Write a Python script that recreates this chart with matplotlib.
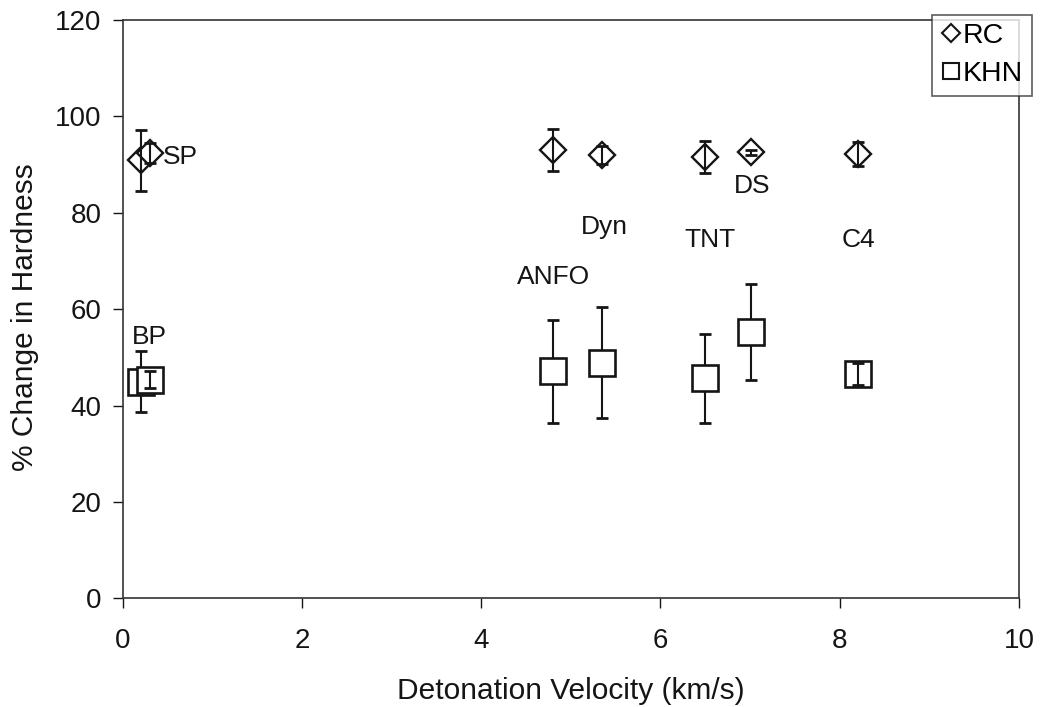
import matplotlib
matplotlib.use("Agg")
import matplotlib.pyplot as plt
import numpy as np

plt.rcParams['font.family'] = ['Liberation Sans', 'DejaVu Sans']

# Explosives and detonation velocity (km/s)
names = ['BP', 'SP', 'ANFO', 'Dyn', 'TNT', 'DS', 'C4']
velocity = [0.21, 0.31, 4.80, 5.35, 6.50, 7.01, 8.20]

# Rockwell C hardness change (%) and error
rc = [90.9, 92.4, 93.1, 92.0, 91.6, 92.6, 92.2]
rc_err = [6.3, 2.0, 4.35, 1.9, 3.3, 0.5, 2.5]

# Knoop hardness change (%) and error
khn = [45.0, 45.4, 47.1, 48.9, 45.7, 55.3, 46.6]
khn_err = [6.3, 1.7, 10.6, 11.5, 9.2, 10.0, 2.3]

# Text label anchor points (left edge, vertical centre)
label_x = [0.10, 0.45, 4.40, 5.11, 6.27, 6.82, 8.02]
label_y = [54.2, 91.6, 66.7, 77.1, 74.4, 85.6, 74.4]

ink = '#151515'
err_style = dict(fmt='none', ecolor=ink, elinewidth=1.5, capsize=4, capthick=2)

fig = plt.figure(figsize=(10.41, 7.07), dpi=100)
ax = fig.add_axes([0.1177, 0.1535, 0.8612, 0.8182])

# RC: bars drawn over the diamonds
ax.plot(velocity, rc, ls='none', marker='D', ms=13, mfc='white', mec=ink, mew=1.7, zorder=3)
ax.errorbar(velocity, rc, yerr=rc_err, zorder=4, **err_style)

# KHN: long bars sit behind the squares, short ones show inside them
v = np.array(velocity)
k = np.array(khn)
ke = np.array(khn_err)
short = ke < 4
ax.errorbar(v, k, yerr=ke, zorder=2, **err_style)
ax.plot(v, k, ls='none', marker='s', ms=18.5, mfc='white', mec=ink, mew=1.9, zorder=3)
ax.errorbar(v[short], k[short], yerr=ke[short], zorder=4, **err_style)

for name, lx, ly in zip(names, label_x, label_y):
    ax.text(lx, ly, name, fontsize=19, ha='left', va='center', color=ink)

ax.set_xlim(0, 10)
ax.set_ylim(0, 120)
ax.set_xticks(range(0, 11, 2))
ax.set_yticks(range(0, 121, 20))
ax.tick_params(direction='out', length=7, width=1, labelsize=20, colors=ink)
ax.tick_params(axis='x', pad=14)
ax.tick_params(axis='y', pad=8)
for side in ['left', 'bottom', 'top', 'right']:
    ax.spines[side].set_color('#333333')
    ax.spines[side].set_linewidth(1.2)

ax.set_xlabel('Detonation Velocity (km/s)', fontsize=21.5, color=ink, va='top')
ax.set_ylabel('% Change in Hardness', fontsize=21.5, color=ink)
ax.xaxis.set_label_coords(0.5, -0.135)
ax.yaxis.set_label_coords(-0.093, 0.487)

handles = [
    plt.Line2D([], [], ls='none', marker='D', ms=9.5, mfc='white', mec=ink, mew=1.5),
    plt.Line2D([], [], ls='none', marker='s', ms=11, mfc='white', mec=ink, mew=1.5),
]
leg = fig.legend(handles, ['RC', 'KHN'], loc='upper left', bbox_to_anchor=(0.895, 0.979),
                 fontsize=20.5, frameon=True, fancybox=False, borderpad=0.3,
                 handletextpad=0.05, handlelength=0.75, labelspacing=0.42,
                 borderaxespad=0)
leg.get_frame().set_edgecolor('#333333')
leg.get_frame().set_linewidth(1.2)

fig.savefig('out.png', dpi=100)
